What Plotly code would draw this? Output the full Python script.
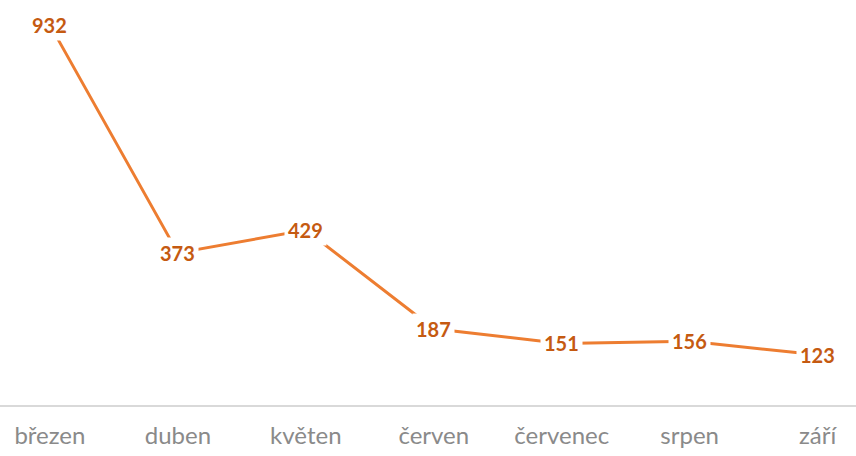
import plotly.graph_objects as go

months = ["březen", "duben", "květen", "červen", "červenec", "srpen", "září"]
values = [932, 373, 429, 187, 151, 156, 123]

line_color = "#ED7D31"
label_color = "#C55A11"

fig = go.Figure(
    go.Scatter(
        x=months,
        y=values,
        mode="lines",
        line=dict(color=line_color, width=3),
        hoverinfo="skip",
    )
)

# data labels sit centred on the points with a white box breaking the line
for m, v in zip(months, values):
    fig.add_annotation(
        x=m,
        y=v,
        text=str(v),
        showarrow=False,
        bgcolor="white",
        borderpad=3,
        font=dict(family="Lato", size=20, color=label_color, weight="bold"),
    )

fig.update_xaxes(
    range=[-0.39, 6.3],
    showgrid=False,
    showline=True,
    linecolor="#D9D9D9",
    linewidth=1.5,
    ticks="",
    ticklabelstandoff=8,
    tickfont=dict(family="Lato", size=24, color="#8A8A8A"),
)
fig.update_yaxes(range=[0, 993], visible=False, showgrid=False, zeroline=False)
fig.update_layout(
    width=856,
    height=456,
    showlegend=False,
    plot_bgcolor="white",
    paper_bgcolor="white",
    margin=dict(l=0, r=0, t=0, b=51),
)
fig.write_html(
    "out.html",
    config={"displayModeBar": False},
    post_script="document.body.style.margin='0';",
)
